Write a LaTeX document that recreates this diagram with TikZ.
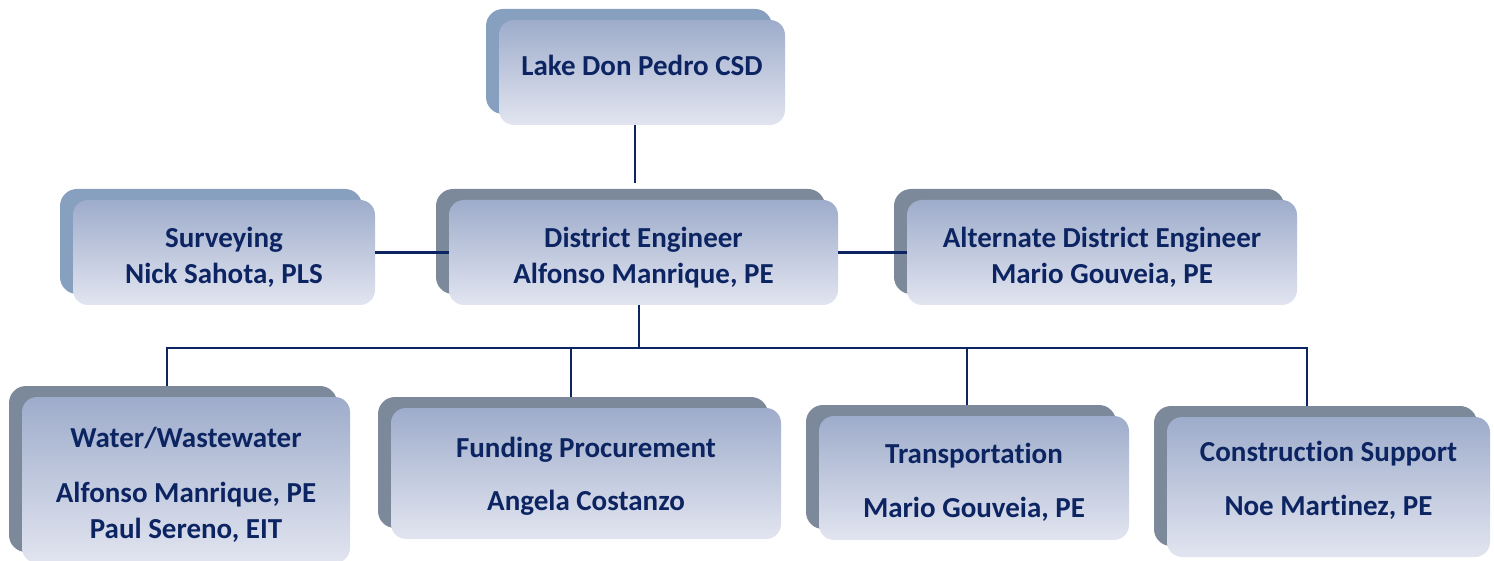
\documentclass[tikz,border=0pt]{standalone}
\usepackage{fontspec}
\setmainfont{Carlito}[RawFeature={-liga}]
\usetikzlibrary{positioning}
\definecolor{navy}{RGB}{12,36,97}
\definecolor{backblue}{RGB}{135,160,191}
\definecolor{backgray}{RGB}{124,137,154}
\definecolor{facetop}{RGB}{158,172,203}
\definecolor{facemid}{RGB}{178,189,215}
\definecolor{facebot}{RGB}{226,229,240}
\newcommand{\padtop}[1]{\rule{0pt}{#1}}
\newcommand{\padbot}[1]{\rule[-#1]{0pt}{#1}}
\tikzset{face/.style={rounded corners=15pt,top color=facetop,middle color=facemid,bottom color=facebot,
                      text=navy,font=\fontsize{29}{36}\selectfont\bfseries,align=center,inner sep=0pt},
         shadowbox/.style={rounded corners=17pt,fill=#1,inner sep=0pt},
         link/.style={draw=navy,line width=2.5pt}
}

\begin{document}
\begin{tikzpicture}[x=1pt,y=-1pt]
    \useasboundingbox (0,0) rectangle (1494,561);

    % back plates
    \node[shadowbox=backblue,minimum width=286pt,minimum height=105pt] (lakeb) at (629,61.5) {};
    \node[shadowbox=backblue,minimum width=302pt,minimum height=105pt] (survb) at (211,241.5) {};
    \node[shadowbox=backgray,minimum width=389pt,minimum height=105pt] (distb) at (630.5,241.5) {};
    \node[shadowbox=backgray,minimum width=390pt,minimum height=105pt] (altb) at (1089,241.5) {};
    \node[shadowbox=backgray,minimum width=328pt,minimum height=166pt] (waterb) at (173,469) {};
    \node[shadowbox=backgray,minimum width=390pt,minimum height=131pt] (fundb) at (573,462.5) {};
    \node[shadowbox=backgray,minimum width=310pt,minimum height=124pt] (transb) at (961,467) {};
    \node[shadowbox=backgray,minimum width=323pt,minimum height=140pt] (consb) at (1315.5,476) {};

    % front boxes
    \node[face,minimum width=286pt,minimum height=105pt,text depth=15pt] (lake) at ([shift={(13,11)}]lakeb.center) {Lake Don Pedro CSD};
    \node[face,minimum width=302pt,minimum height=105pt] (surv) at ([shift={(13,11)}]survb.center) {\padtop{30pt}Surveying\\Nick Sahota, PLS};
    \node[face,minimum width=389pt,minimum height=105pt] (dist) at ([shift={(13,11)}]distb.center) {\padtop{30pt}District Engineer\\Alfonso Manrique, PE};
    \node[face,minimum width=390pt,minimum height=105pt] (alt) at ([shift={(13,11)}]altb.center) {\padtop{30pt}Alternate District Engineer\\Mario Gouveia, PE};
    \node[face,minimum width=328pt,minimum height=166pt] (water) at ([shift={(13,11)}]waterb.center) {\padtop{30pt}Water/Wastewater\\[19pt]Alfonso Manrique, PE\\Paul Sereno, EIT};
    \node[face,minimum width=390pt,minimum height=131pt] (fund) at ([shift={(13,11)}]fundb.center) {\padtop{26pt}Funding Procurement\\[17pt]Angela Costanzo};
    \node[face,minimum width=310pt,minimum height=124pt] (trans) at ([shift={(13,11)}]transb.center) {\padtop{28pt}Transportation\\[18pt]Mario Gouveia, PE};
    \node[face,minimum width=323pt,minimum height=140pt] (cons) at ([shift={(13,11)}]consb.center) {Construction Support\\[18pt]Noe Martinez, PE\padbot{17pt}};

    % connectors
    \coordinate (topend) at (635,183);
    \coordinate (bus) at (639,348);
    \draw[link] (topend |- lake.south) -- (topend);
    \draw[link] (surv.east) -- (dist.west);
    \draw[link] (dist.east) -- (alt.west);
    \draw[link] (bus |- dist.south) -- (bus);
    \foreach \i/\x in {1/167,2/571,3/967,4/1307}
        \coordinate (d\i) at (\x,348);
    \draw[link] (d1 |- waterb.north) -- (d1) -- (d4) -- (d4 |- consb.north);
    \draw[link] (d2) -- (d2 |- fundb.north);
    \draw[link] (d3) -- (d3 |- transb.north);

\end{tikzpicture}
\end{document}
